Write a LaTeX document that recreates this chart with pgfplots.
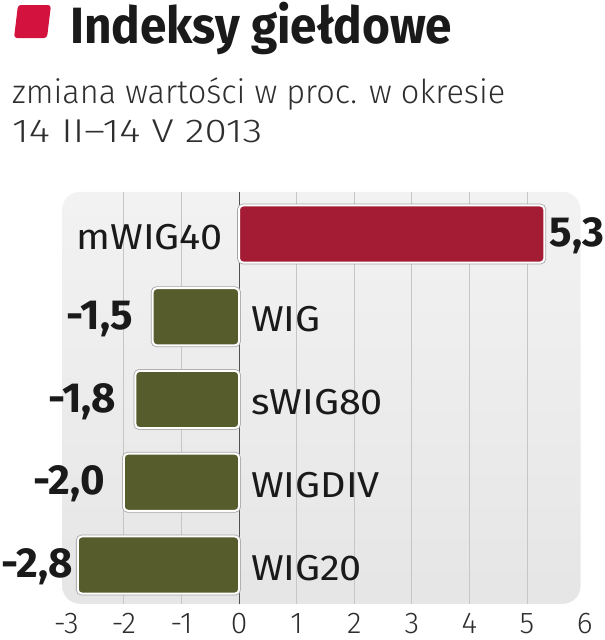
\documentclass[border=0pt]{standalone}
\usepackage{pgfplots}
\pgfplotsset{compat=1.18}
\usepackage{pgfplotstable}
\usepackage{graphicx}
\usepackage{fontspec}
\setmainfont{Fira Sans}
\newfontfamily\fsLight{Fira Sans}[UprightFont=* Light]
\newfontfamily\fsReg{Fira Sans}[FakeStretch=1.1]
\newfontfamily\fsBold{Fira Sans}[UprightFont=* Bold]
\newfontfamily\fsTitle{Fira Sans}[UprightFont=* Bold]

\definecolor{titlered}{HTML}{D4123E}
\definecolor{barred}{HTML}{A31C33}
\definecolor{bargreen}{HTML}{565C2B}
\definecolor{txt}{HTML}{1A1A1A}
\definecolor{subtxt}{HTML}{2E2E2E}
\definecolor{gridc}{HTML}{C6C6C6}
\definecolor{zeroc}{HTML}{505050}

% values (change in %)
\pgfplotstableread{
x y
5.3 0
}\posdata
\pgfplotstableread{
x y
-1.5 1
-1.8 2
-2.0 3
-2.8 4
}\negdata
\pgfplotstableread{
x y
-1.5 1
-1.8 2
-2.0 3
}\negvals
\pgfplotstableread{
x y
-2.8 4
}\lastval
% category names
\pgfplotstableread{
x y name
0 0 mWIG40
}\poscat
\pgfplotstableread{
x y name
0 1 WIG
0 2 sWIG80
0 3 WIGDIV
0 4 WIG20
}\negcat

\tikzset{
  valfont/.style={font=\fsBold\fontsize{42}{42}\selectfont, text=txt, inner sep=0pt},
  catfont/.style={font=\fsReg\fontsize{36}{36}\selectfont, text=txt, inner sep=0pt},
}
\pgfplotsset{
  barstyle/.style={xbar, bar width=0.69, bar shift=0pt, draw=white, line width=2pt,
    rounded corners=4pt, preaction={draw=black!35, line width=3.6pt}},
  ghost/.style={xbar, bar width=0.69, bar shift=0pt, draw=none, fill=none, nodes near coords},
}

\begin{document}
\begin{tikzpicture}[x=1pt,y=1pt]
% title
\fill[titlered, rounded corners=3pt] (14,-38) -- (47,-38) -- (51,-5) -- (18,-5) -- cycle;
\node[anchor=base west, inner sep=0pt, text=txt] at (70,-43)
  {\resizebox{382pt}{\height}{\fsTitle\fontsize{51}{51}\selectfont Indeksy giełdowe}};
\node[anchor=base west, inner sep=0pt, text=subtxt] at (12,-103)
  {\resizebox{493pt}{\height}{\fsLight\fontsize{33}{33}\selectfont zmiana wartości w proc. w okresie}};
\node[anchor=base west, inner sep=0pt, text=subtxt] at (12,-142)
  {\resizebox{250pt}{\height}{\fsLight\fontsize{33}{33}\selectfont 14 II–14 V 2013}};

\begin{axis}[
  at={(62.2pt,-603.9pt)}, anchor=south west,
  x=57.6pt, y=82.75pt, y dir=reverse,
  xmin=-3.07, xmax=6, ymin=-0.51, ymax=4.47,
  set layers, clip=false,
  axis line style={draw=none},
  major tick length=0pt,
  ytick=\empty,
  xtick={-2,...,5},
  extra x ticks={-3,6},
  extra x tick style={xmajorgrids=false},
  xmajorgrids,
  grid style={gridc, line width=1pt},
  /pgf/number format/assume math mode=true,
  xticklabel style={font=\fsLight\fontsize{30}{30}\selectfont, text=subtxt, inner sep=0pt, yshift=-9pt},
]
\begin{pgfonlayer}{axis background}
  \shade[top color=white!95!black, bottom color=white!90!black, rounded corners=18pt]
    (axis cs:-3.07,-0.51) rectangle (axis cs:5.93,4.47);
\end{pgfonlayer}
\draw[zeroc, line width=1pt] (axis cs:0,-0.51) -- (axis cs:0,4.47);

\addplot[barstyle, fill=barred] table[x=x, y=y] {\posdata};
\addplot[barstyle, fill=bargreen] table[x=x, y=y] {\negdata};

% value labels
\addplot[ghost, point meta=x,
  nodes near coords={\pgfmathprintnumber[fixed,fixed zerofill,precision=1,use comma]{\pgfplotspointmeta}},
  every node near coord/.append style={valfont, anchor=base west, xshift=5pt, yshift=-12.5pt}]
  table[x=x, y=y] {\posdata};
\addplot[ghost, point meta=x,
  nodes near coords={\pgfmathprintnumber[fixed,fixed zerofill,precision=1,use comma]{\pgfplotspointmeta}},
  every node near coord/.append style={valfont, anchor=base east, xshift=-19pt, yshift=-12.5pt}]
  table[x=x, y=y] {\negvals};
\addplot[ghost, point meta=x,
  nodes near coords={\pgfmathprintnumber[fixed,fixed zerofill,precision=1,use comma]{\pgfplotspointmeta}},
  every node near coord/.append style={valfont, anchor=base east, xshift=-4.5pt, yshift=-12.5pt}]
  table[x=x, y=y] {\lastval};

% category labels
\addplot[ghost, point meta=explicit symbolic,
  every node near coord/.append style={catfont, anchor=base east, xshift=-16pt, yshift=-15pt}]
  table[x=x, y=y, meta=name] {\poscat};
\addplot[ghost, point meta=explicit symbolic,
  every node near coord/.append style={catfont, anchor=base west, xshift=12pt, yshift=-15pt}]
  table[x=x, y=y, meta=name] {\negcat};
\end{axis}
\pgfresetboundingbox
\path[use as bounding box] (0,0) rectangle (605,-640);
\end{tikzpicture}
\end{document}
